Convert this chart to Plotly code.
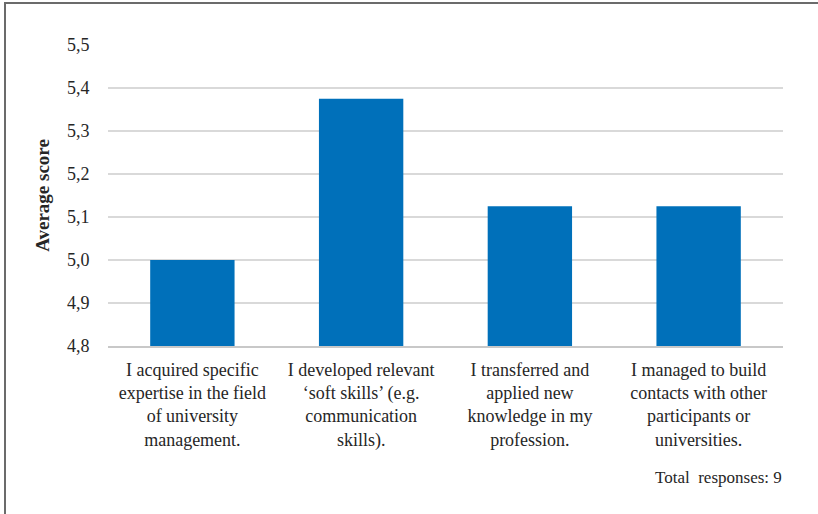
import plotly.graph_objects as go

categories = [
    "I acquired specific<br>expertise in the field<br>of university<br>management.",
    "I developed relevant<br>‘soft skills’ (e.g.<br>communication<br>skills).",
    "I transferred and<br>applied new<br>knowledge in my<br>profession.",
    "I managed to build<br>contacts with other<br>participants or<br>universities.",
]
values = [5.0, 5.375, 5.125, 5.125]
y_ticks = [4.8, 4.9, 5.0, 5.1, 5.2, 5.3, 5.4, 5.5]

FONT = "Liberation Serif"
TXT = "#262626"
W, H = 818, 514
L, R, T, B = 108, 35, 45, 168
pw, ph = W - L - R, H - T - B

def px(x):
    return (x - L) / pw

def py(y):
    return (H - B - y) / ph

fig = go.Figure(go.Bar(
    x=categories, y=values,
    marker=dict(color="#0070BA", line=dict(width=0)),
    width=0.5,
))

fig.update_layout(
    width=W, height=H,
    margin=dict(l=L, r=R, t=T, b=B),
    paper_bgcolor="white", plot_bgcolor="white",
    separators=", ",
    showlegend=False,
    font=dict(family=FONT, size=18, color=TXT),
    xaxis=dict(
        showgrid=False, showline=True, linecolor="#c8c8c8", linewidth=2,
        ticks="", tickfont=dict(size=18, family=FONT, color=TXT),
        tickangle=0, ticklabelstandoff=6,
    ),
    yaxis=dict(
        range=[4.8, 5.5], tickvals=y_ticks, tickformat=".1f",
        showgrid=True, gridcolor="#d9d9d9", gridwidth=1.5,
        zeroline=False, showline=False,
        ticks="outside", ticklen=14, tickcolor="white",
        tickfont=dict(size=18, family=FONT, color=TXT),
        title=dict(text="<b>Average score</b>", font=dict(size=19, family=FONT, color=TXT), standoff=12),
    ),
    shapes=[
        dict(type="line", xref="paper", yref="paper",
             x0=px(5), x1=px(5), y0=py(H + 5), y1=py(3),
             line=dict(color="#6b6b6b", width=2)),
        dict(type="line", xref="paper", yref="paper",
             x0=px(4), x1=px(W + 5), y0=py(3), y1=py(3),
             line=dict(color="#6b6b6b", width=2)),
    ],
    annotations=[
        dict(text="Total\u00a0 responses: 9", xref="paper", yref="paper",
             x=px(784), y=py(477), xanchor="right", yanchor="middle",
             showarrow=False, font=dict(size=17, family=FONT, color=TXT)),
    ],
)

fig.write_html("out.html")
